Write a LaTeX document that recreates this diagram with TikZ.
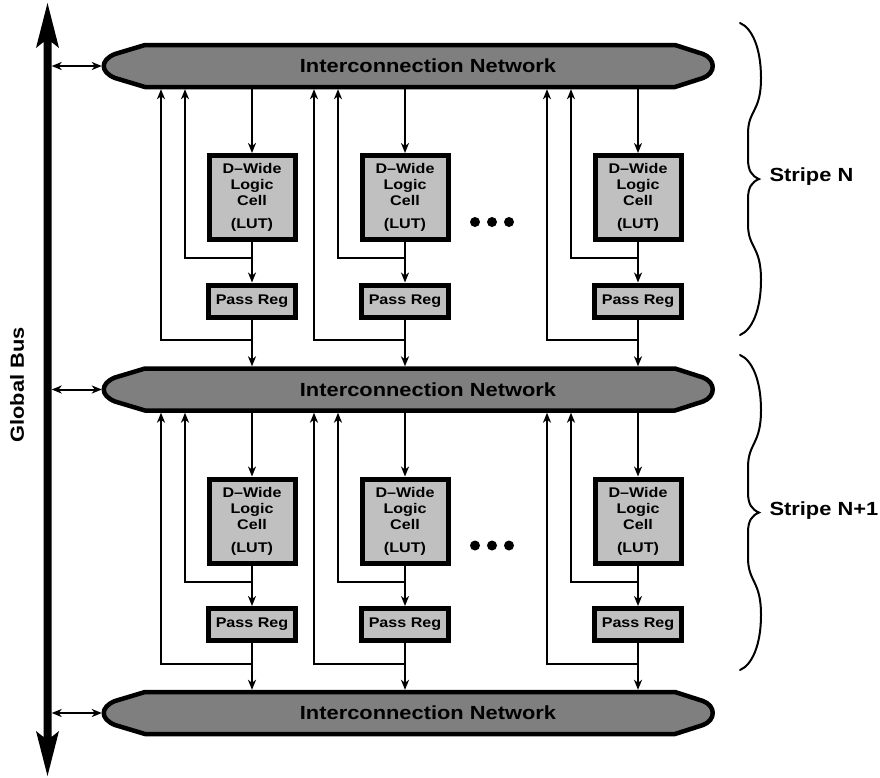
\documentclass[tikz,border=0pt]{standalone}
\usepackage{fontspec}
\setmainfont{Liberation Sans}
\newfontfamily\lblfont{Liberation Sans}[FakeStretch=1.15]
\usetikzlibrary{arrows.meta,calc}

\definecolor{netgray}{HTML}{7F7F7F}
\definecolor{boxgray}{HTML}{C0C0C0}

\tikzset{
  bigfont/.style={font=\lblfont\bfseries\fontsize{19}{22}\selectfont},
  smallfont/.style={font=\lblfont\bfseries\fontsize{14}{16}\selectfont},
  netshape/.style={draw, fill=netgray, line width=4.5pt, line join=round},
  netnode/.style={inner sep=0pt, minimum width=611pt, minimum height=46pt},
  cellbox/.style={draw, fill=boxgray, line width=5pt, inner sep=0pt,
    minimum width=86pt, minimum height=84pt, align=center, smallfont},
  regbox/.style={draw, fill=boxgray, line width=5pt, inner sep=0pt,
    minimum width=87pt, minimum height=32pt, smallfont},
  wire/.style={line width=2pt},
  tipA/.tip={Stealth[length=10pt,width=8pt,inset=3pt]},
  arr/.style={wire, -tipA},
  darr/.style={wire, tipA-tipA},
  bracepath/.style={line width=2pt, line cap=round}
}

\begin{document}
\begin{tikzpicture}[x=1pt,y=-1pt]
\useasboundingbox (0,0) rectangle (880,777);

% global bus: thick double-headed bar
\fill (47.5,3) -- (59,48) -- (51.5,42) -- (51.5,737) -- (59,731) -- (47.5,776)
  -- (36,731) -- (43.5,737) -- (43.5,42) -- (36,48) -- cycle;
\node[inner sep=0pt, minimum width=8pt, minimum height=690pt] (bus) at (47.5,389.5) {};
\node[bigfont, rotate=90] (buslbl) at (17,385) {Global Bus};

% interconnection networks
\foreach \i/\y in {1/66,2/389.5,3/713} {
  \path[netshape] (145,\y-21) -- (675,\y-21) -- (703,\y-12)
    .. controls (716,\y-7) and (716,\y+7) .. (703,\y+12)
    -- (675,\y+21) -- (145,\y+21) -- (115,\y+12)
    .. controls (100,\y+6) and (100,\y-6) .. (115,\y-12) -- cycle;
  \node[netnode] (net\i) at (407.5,\y) {};
  \node[bigfont] (netlbl\i) at (428,\y) {Interconnection Network};
  \draw[darr] (bus.east |- net\i.west) -- (net\i.west);
}

% logic cells, pass registers and their wiring
\foreach \s/\o in {1/0,2/323.5} {
  \pgfmathtruncatemacro\n{\s+1}
  \foreach \c/\X in {1/252,2/405,3/638} {
    \node[cellbox] (cell-\s-\c) at (\X,197.5+\o) {D–Wide\\Logic\\Cell\\[7pt](LUT)};
    \node[regbox] (reg-\s-\c) at (\X,301+\o) {Pass Reg};
    \draw[arr] (net\s.south -| cell-\s-\c.north) -- (cell-\s-\c.north);
    \draw[arr] (cell-\s-\c.south) -- (reg-\s-\c.north);
    \draw[arr] (reg-\s-\c.south) -- (net\n.north -| reg-\s-\c.south);
    \coordinate (ja-\s-\c) at (\X,258+\o);
    \coordinate (jb-\s-\c) at (\X,340+\o);
    \coordinate (la-\s-\c) at (\X-67,258+\o);
    \coordinate (lb-\s-\c) at (\X-91,340+\o);
    \draw[arr] (ja-\s-\c) -- (la-\s-\c) -- (la-\s-\c |- net\s.south);
    \draw[arr] (jb-\s-\c) -- (lb-\s-\c) -- (lb-\s-\c |- net\s.south);
  }
  \foreach \dx in {475,492,509}
    \fill (\dx,222+\o) circle[radius=5pt];
}

% stripe braces
\foreach \t/\m/\b/\lbl/\k in {23/179/335/{Stripe N}/1, 355/512.5/670/{Stripe N+1}/2} {
  \draw[bracepath] (740,\t) .. controls (752,\t+5) and (761,\t+25) .. (761,\t+55)
    .. controls (761,\t+90) and (748,\m-70) .. (748,\m-45) -- (748,\m-20)
    .. controls (748,\m-8) and (752,\m-3) .. (759,\m)
    .. controls (752,\m+3) and (748,\m+8) .. (748,\m+20) -- (748,\m+45)
    .. controls (748,\m+70) and (761,\b-90) .. (761,\b-55)
    .. controls (761,\b-25) and (752,\b-5) .. (740,\b);
  \node[bigfont, anchor=west] (stripe\k) at (766,\m-2) {\lbl};
}
\end{tikzpicture}
\end{document}
